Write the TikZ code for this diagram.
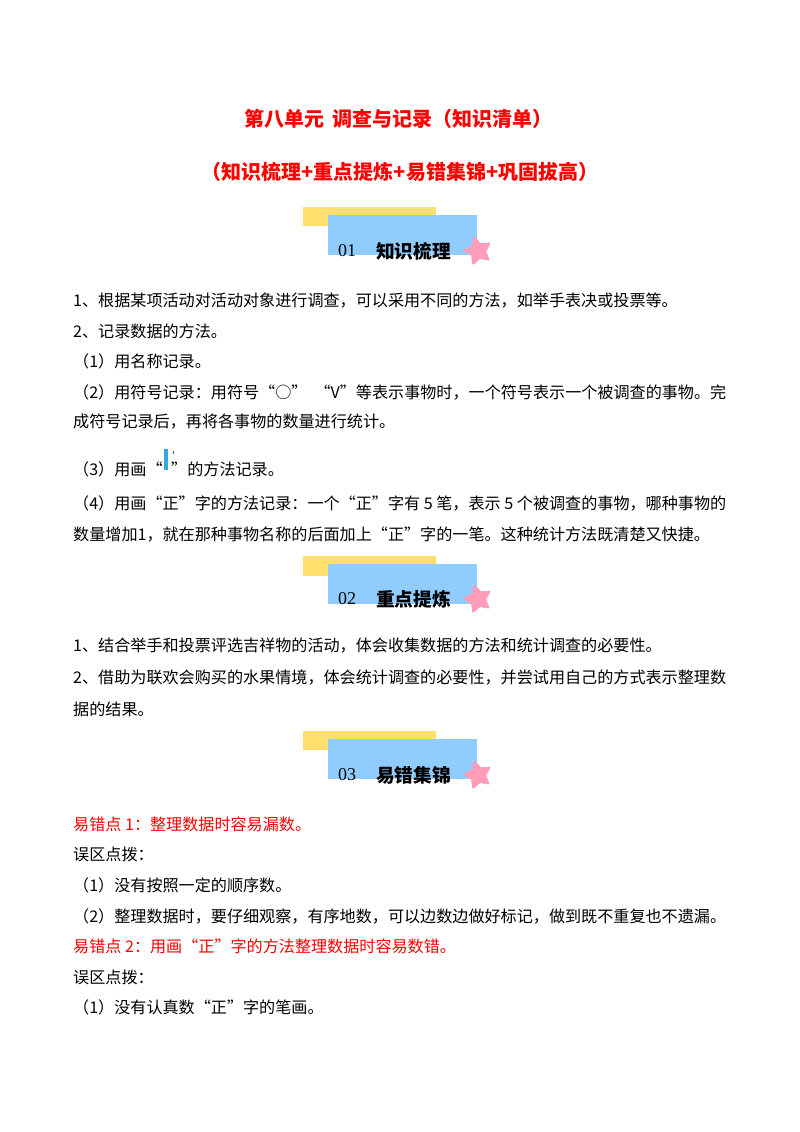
\documentclass[tikz,border=0pt]{standalone}
\usepackage{fontspec}
\setmainfont{Noto Sans CJK SC}
\newfontfamily\numfont{Liberation Serif}
\usetikzlibrary{shapes.geometric}
\definecolor{bandyellow}{HTML}{FFDF6E}
\definecolor{bandblue}{HTML}{91CCFF}
\definecolor{starpink}{HTML}{FF9DB8}
\definecolor{markblue}{HTML}{35A8E0}
\tikzset{
  titleline/.style={inner sep=0pt,text=red,font=\fontsize{20}{20}\selectfont\bfseries},
  bodyline/.style={anchor=west,inner sep=0pt,font=\fontsize{16.1}{16.1}\selectfont},
  errline/.style={bodyline,text=red},
  backband/.style={fill=bandyellow,draw=none},
  frontband/.style={fill=bandblue,draw=none},
  headstar/.style={star,star points=5,star point ratio=1.9,fill=starpink,draw=starpink,line width=2pt,line join=round,minimum size=27pt,inner sep=0pt,rotate=15},
  headnum/.style={inner sep=0pt,font=\fontsize{18}{18}\selectfont\numfont},
  headtext/.style={inner sep=0pt,font=\fontsize{18.7}{18.7}\selectfont\bfseries},
}
\begin{document}
\begin{tikzpicture}[x=1pt,y=-1pt]
    \useasboundingbox[fill=white] (0,0) rectangle (800,1132);

    \node[titleline] (title) at (398,119) {第八单元\hspace{8pt}调查与记录（知识清单）};
    \node[titleline] (subtitle) at (400,172) {（知识梳理+重点提炼+易错集锦+巩固拔高）};

    \fill[backband] (303,207) rectangle (436,226);
    \fill[frontband] (328,215) rectangle (477,255);
    \node[headstar] (star1) at (478,251) {};
    \node[headnum] (num1) at (347,251) {01};
    \node[headtext] (head1) at (413.5,251.5) {知识梳理};

    \node[bodyline] (l1) at (73,301) {1、根据某项活动对活动对象进行调查，可以采用不同的方法，如举手表决或投票等。};
    \node[bodyline] (l2) at (73,331) {2、记录数据的方法。};
    \node[bodyline] (l3) at (73,361) {（1）用名称记录。};
    \node[bodyline] (l4) at (73,392) {（2）用符号记录：用符号“○”\hspace{7pt}“V”等表示事物时，一个符号表示一个被调查的事物。完};
    \node[bodyline] (l5) at (73,422) {成符号记录后，再将各事物的数量进行统计。};
    \node[bodyline] (l6) at (73,469) {（3）用画“};
    \fill[markblue] (164,449) rectangle (168,470);
    \fill[black!70] (172.5,451) rectangle (173.5,454);
    \node[bodyline] (l6b) at (171,469) {”的方法记录。};
    \node[bodyline] (l7) at (73,503) {（4）用画“正”字的方法记录：一个“正”字有 5 笔，表示 5 个被调查的事物，哪种事物的};
    \node[bodyline] (l8) at (73,535) {数量增加1，就在那种事物名称的后面加上“正”字的一笔。这种统计方法既清楚又快捷。};

    \fill[backband] (303,556) rectangle (436,576);
    \fill[frontband] (328,564) rectangle (477,604);
    \node[headstar] (star2) at (478,599) {};
    \node[headnum] (num2) at (347,599) {02};
    \node[headtext] (head2) at (413.5,599.5) {重点提炼};

    \node[bodyline] (l9) at (73,646) {1、结合举手和投票评选吉祥物的活动，体会收集数据的方法和统计调查的必要性。};
    \node[bodyline] (l10) at (73,678) {2、借助为联欢会购买的水果情境，体会统计调查的必要性，并尝试用自己的方式表示整理数};
    \node[bodyline] (l11) at (73,709) {据的结果。};

    \fill[backband] (303,731) rectangle (436,750);
    \fill[frontband] (328,739) rectangle (477,779);
    \node[headstar] (star3) at (478,775) {};
    \node[headnum] (num3) at (347,775) {03};
    \node[headtext] (head3) at (413.5,775.5) {易错集锦};

    \node[errline] (l12) at (73,824) {易错点 1：整理数据时容易漏数。};
    \node[bodyline] (l13) at (73,854) {误区点拨：};
    \node[bodyline] (l14) at (73,885) {（1）没有按照一定的顺序数。};
    \node[bodyline] (l15) at (73,916) {（2）整理数据时，要仔细观察，有序地数，可以边数边做好标记，做到既不重复也不遗漏。};
    \node[errline] (l16) at (73,946) {易错点 2：用画“正”字的方法整理数据时容易数错。};
    \node[bodyline] (l17) at (73,977) {误区点拨：};
    \node[bodyline] (l18) at (73,1007) {（1）没有认真数“正”字的笔画。};
  \end{tikzpicture}
\end{document}
